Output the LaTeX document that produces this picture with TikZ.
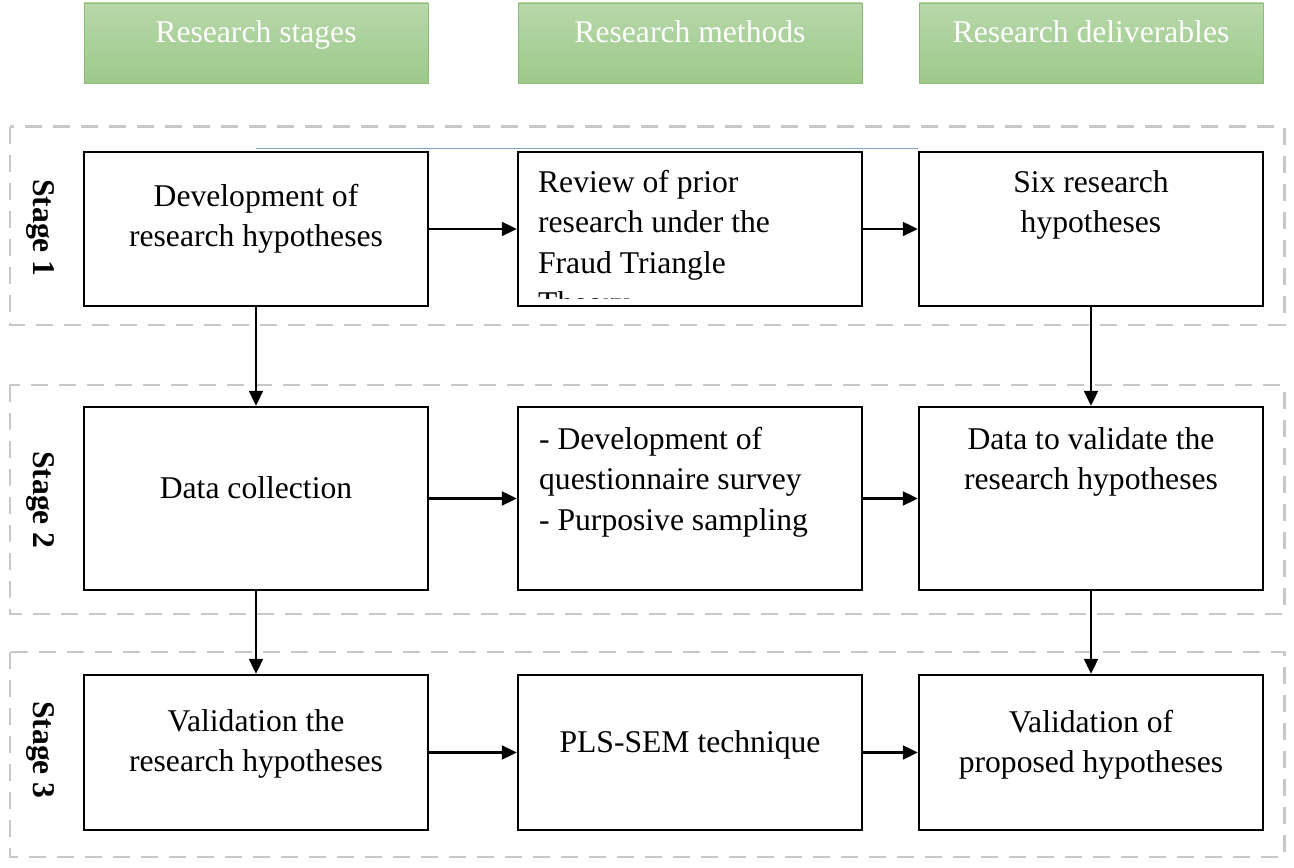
\documentclass[tikz,border=0pt]{standalone}
\usepackage{fontspec}
\setmainfont{Liberation Serif}
\usepackage{tikz}
\usetikzlibrary{arrows.meta, positioning, calc}
\definecolor{headtop}{HTML}{B8D8AA}
\definecolor{headbot}{HTML}{9CC98A}
\definecolor{headedge}{HTML}{8CBC78}
\definecolor{framegray}{HTML}{C8C8C8}
\definecolor{linkblue}{HTML}{7FA7CC}

\begin{document}
\begin{tikzpicture}[
    font=\fontsize{18}{22.8}\selectfont,
    colhead/.style={draw=headedge, top color=headtop, bottom color=headbot,
      minimum width=6.88cm, minimum height=1.6cm, text=white,
      text height=0.4cm, text depth=0.4cm, inner sep=0pt},
    stagebox/.style={draw, line width=1.4pt, fill=white,
      minimum width=6.88cm, inner sep=0pt},
    boxtext/.style={inner sep=0pt, align=center},
    stageframe/.style={draw=framegray, line width=1.7pt,
      dash pattern=on 0.34cm off 0.22cm},
    stagelabel/.style={rotate=-90, font=\fontsize{18}{22.8}\selectfont\bfseries},
    flow/.style={line width=1.3pt, -{Triangle[length=0.3cm, width=0.28cm]}}
  ]
  \useasboundingbox (0,0) rectangle (25.88,-17.36);

  % dashed stage frames
  \draw[stageframe] (0.2,-2.54) rectangle (25.68,-6.5);
  \draw[stageframe] (0.2,-7.7) rectangle (25.68,-12.28);
  \draw[stageframe] (0.2,-13.04) rectangle (25.68,-17.14);

  \node[stagelabel] (s1) at (0.8,-4.56) {Stage 1};
  \node[stagelabel] (s2) at (0.8,-10.0) {Stage 2};
  \node[stagelabel] (s3) at (0.8,-15.0) {Stage 3};

  % column headers
  \node[colhead] (h1) at (5.12,-0.86) {Research stages};
  \node[colhead] (h2) at (13.8,-0.86) {Research methods};
  \node[colhead] (h3) at (21.82,-0.86) {Research deliverables};

  % boxes
  \node[stagebox, minimum height=3.08cm] (b11) at (5.12,-4.58) {};
  \node[stagebox, minimum height=3.08cm] (b12) at (13.8,-4.58) {};
  \node[stagebox, minimum height=3.08cm] (b13) at (21.82,-4.58) {};
  \node[stagebox, minimum height=3.66cm] (b21) at (5.12,-9.97) {};
  \node[stagebox, minimum height=3.66cm] (b22) at (13.8,-9.97) {};
  \node[stagebox, minimum height=3.66cm] (b23) at (21.82,-9.97) {};
  \node[stagebox, minimum height=3.1cm] (b31) at (5.12,-15.05) {};
  \node[stagebox, minimum height=3.1cm] (b32) at (13.8,-15.05) {};
  \node[stagebox, minimum height=3.1cm] (b33) at (21.82,-15.05) {};

  \draw[linkblue, line width=0.5pt] ([yshift=0.04cm]b11.north) -- ([yshift=0.04cm]b13.north west);

  % box texts
  \node[boxtext, anchor=north] (t11) at ([yshift=-0.67cm]b11.north)
    {Development of\\research hypotheses};
  \begin{scope}
    \clip ([shift={(0.05,0.17)}]b12.south west) rectangle ([shift={(-0.05,-0.05)}]b12.north east);
    \node[boxtext, align=left, anchor=north west] (t12)
      at ([shift={(0.42,-0.39)}]b12.north west)
      {Review of prior\\research under the\\Fraud Triangle\\Theory};
  \end{scope}
  \node[boxtext, anchor=north] (t13) at ([yshift=-0.39cm]b13.north)
    {Six research\\hypotheses};

  \node[boxtext, anchor=base] (t21) at (b21.center) {Data collection};
  \node[boxtext, align=left, anchor=north west] (t22)
    at ([shift={(0.44,-0.43)}]b22.north west)
    {- Development of\\questionnaire survey\\- Purposive sampling};
  \node[boxtext, anchor=north] (t23) at ([yshift=-0.43cm]b23.north)
    {Data to validate the\\research hypotheses};

  \node[boxtext, anchor=north] (t31) at ([yshift=-0.71cm]b31.north)
    {Validation the\\research hypotheses};
  \node[boxtext, anchor=base] (t32) at (b32.center) {PLS-SEM technique};
  \node[boxtext, anchor=north] (t33) at ([yshift=-0.72cm]b33.north)
    {Validation of\\proposed hypotheses};

  % connectors
  \draw[flow] (b11) -- (b12);
  \draw[flow] (b12) -- (b13);
  \draw[flow] (b21) -- (b22);
  \draw[flow] (b22) -- (b23);
  \draw[flow] (b31) -- (b32);
  \draw[flow] (b32) -- (b33);
  \draw[flow] (b11) -- (b21);
  \draw[flow] (b21) -- (b31);
  \draw[flow] (b13) -- (b23);
  \draw[flow] (b23) -- (b33);
\end{tikzpicture}
\end{document}
